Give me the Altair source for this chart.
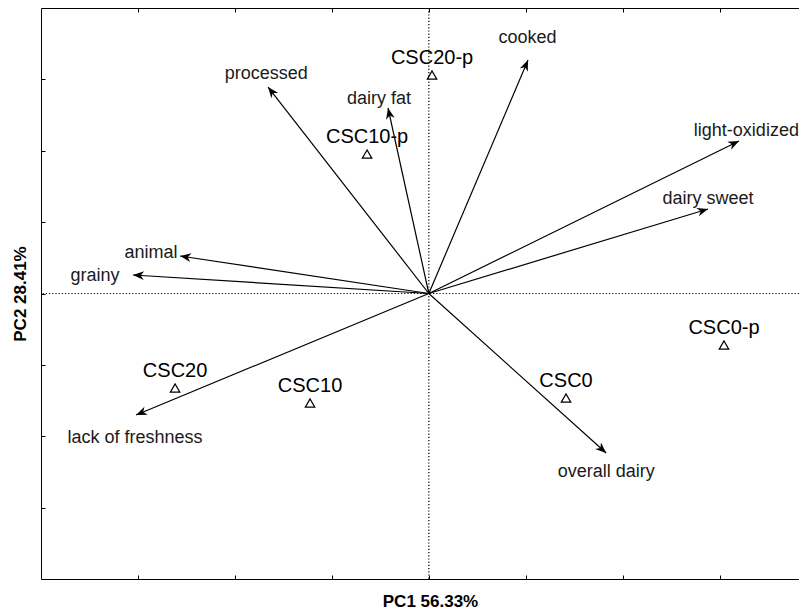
import math
import altair as alt
import pandas as pd

# ---- data (PC1 / PC2 coordinates) ----
var_names = ["processed", "dairy fat", "cooked", "light-oxidized", "dairy sweet",
             "overall dairy", "lack of freshness", "grainy", "animal"]
var_pc1 = [-1.658, -0.421, 1.023, 3.199, 2.880, 1.829, -3.020, -3.051, -2.566]
var_pc2 = [2.893, 2.599, 3.271, 2.137, 1.184, -2.235, -1.702, 0.259, 0.525]
label_pc1 = [-1.677, -0.514, 1.017, 3.275, 2.880, 1.829, -3.030, -3.443, -2.865]
label_pc2 = [3.005, 2.655, 3.510, 2.207, 1.254, -2.571, -2.095, 0.175, 0.497]

sample_names = ["CSC20-p", "CSC10-p", "CSC0-p", "CSC0", "CSC10", "CSC20"]
sample_pc1 = [0.033, -0.637, 3.044, 1.415, -1.225, -2.617]
sample_pc2 = [3.061, 1.954, -0.722, -1.464, -1.534, -1.324]

tick_values = [-3, -2, -1, 0, 1, 2, 3]
W, H = 758, 571
PX_PER_X = 96.96
X_DOMAIN = [-4, round(-4 + W / PX_PER_X, 4)]
Y_DOMAIN = [-4, 4]
FONT = "Liberation Sans"

sx = W / (X_DOMAIN[1] - X_DOMAIN[0])
sy = H / (Y_DOMAIN[1] - Y_DOMAIN[0])
angles = [(math.degrees(math.atan2(a * sx, b * sy)) + 360) % 360 for a, b in zip(var_pc1, var_pc2)]

var_df = pd.DataFrame({
    "name": var_names, "pc1": var_pc1, "pc2": var_pc2,
    "lx": label_pc1, "ly": label_pc2, "angle": angles,
    "ox": [0.0] * len(var_names), "oy": [0.0] * len(var_names),
})
sample_df = pd.DataFrame({"name": sample_names, "pc1": sample_pc1, "pc2": sample_pc2})
zero_df = pd.DataFrame({"z": [0.0]})

xs = alt.Scale(domain=X_DOMAIN, nice=False, zero=False)
ys = alt.Scale(domain=Y_DOMAIN, nice=False, zero=False)

ax_bottom = alt.Axis(orient="bottom", domain=True, domainColor="black", domainWidth=1,
                     ticks=False, labels=False, grid=False, title="PC1 56.33%",
                     titleFont=FONT, titleFontSize=17, titleFontWeight="bold", titleColor="black",
                     titleX=389, titleY=27, titleBaseline="alphabetic", titleAlign="center")
ax_left = alt.Axis(orient="left", domain=True, domainColor="black", domainWidth=1,
                   ticks=False, labels=False, grid=False, title="PC2 28.41%",
                   titleFont=FONT, titleFontSize=17, titleFontWeight="bold", titleColor="black",
                   titleX=-21, titleY=H / 2, titleAngle=270, titleBaseline="middle", titleAlign="center")
ax_top = alt.Axis(orient="top", domain=True, domainColor="black", domainWidth=1,
                  ticks=False, labels=False, grid=False, title=None)


def tick_axis(orient):
    return alt.Axis(orient=orient, offset=-4, domain=False, ticks=True, tickSize=4,
                    tickColor="black", tickWidth=1, labels=False, grid=False,
                    title=None, values=tick_values)


ARROW = "M0,0L0.4,1L0,0.7L-0.4,1Z"

arrows = alt.Chart(var_df).mark_rule(color="black", strokeWidth=1.2).encode(
    x=alt.X("ox:Q", scale=xs, axis=ax_bottom),
    y=alt.Y("oy:Q", scale=ys, axis=ax_left),
    x2="pc1:Q", y2="pc2:Q",
)

heads = alt.Chart(var_df).mark_point(shape=ARROW, filled=True, color="black", size=480,
                                     opacity=1, strokeWidth=0).encode(
    x=alt.X("pc1:Q", scale=xs, axis=tick_axis("bottom")),
    y=alt.Y("pc2:Q", scale=ys, axis=tick_axis("left")),
    angle=alt.Angle("angle:Q", scale=None),
)

var_labels = alt.Chart(var_df).mark_text(font=FONT, fontSize=18, color="#1a1a1a",
                                         align="center", baseline="alphabetic").encode(
    x=alt.X("lx:Q", scale=xs, axis=ax_top),
    y=alt.Y("ly:Q", scale=ys, axis=None),
    text="name:N",
)

samples = alt.Chart(sample_df).mark_point(shape="triangle-up", filled=False, color="black",
                                          size=90, strokeWidth=1.2, opacity=1).encode(
    x=alt.X("pc1:Q", scale=xs, axis=tick_axis("top")),
    y=alt.Y("pc2:Q", scale=ys, axis=None),
)

sample_labels = alt.Chart(sample_df).mark_text(font=FONT, fontSize=20, color="black",
                                               align="center", baseline="alphabetic", dy=-11).encode(
    x=alt.X("pc1:Q", scale=xs, axis=None),
    y=alt.Y("pc2:Q", scale=ys, axis=None),
    text="name:N",
)

hzero = alt.Chart(zero_df).mark_rule(color="black", strokeWidth=1.2, strokeDash=[1.2, 2]).encode(
    y=alt.Y("z:Q", scale=ys, axis=None))
vzero = alt.Chart(zero_df).mark_rule(color="black", strokeWidth=1.2, strokeDash=[1.2, 2]).encode(
    x=alt.X("z:Q", scale=xs, axis=None))

chart = alt.layer(hzero, vzero, arrows, heads, var_labels, samples, sample_labels).resolve_axis(
    x="independent", y="independent"
).properties(
    width=W, height=H,
    padding={"left": 33, "top": 0, "right": 0, "bottom": 31},
    autosize=alt.AutoSizeParams(type="none"),
).configure_view(stroke=None)

chart.save("out.html", embed_options={"renderer": "svg", "actions": False})
